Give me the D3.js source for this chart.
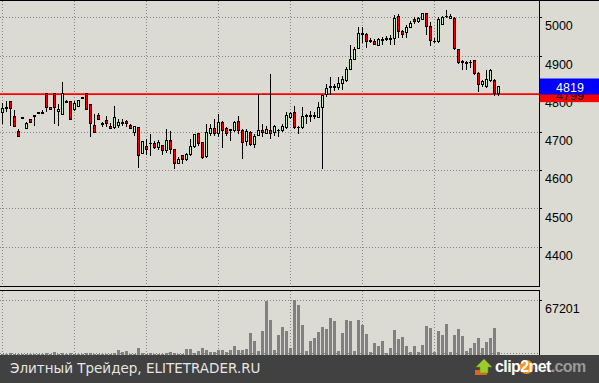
<!DOCTYPE html>
<html>
<head>
<meta charset="utf-8">
<script src="https://cdn.jsdelivr.net/npm/d3@7"></script>
<style>
  body { margin: 0; background: #dcdbd3; }
  svg { display: block; }
</style>
</head>
<body>
<svg id="chart" width="599" height="383"></svg>
<script>
// candle data, one entry per bar (oldest first)
const open = [4751,4763,4780,4740,4701,4737,4710,4732,4742,4750,
  4749,4800,4763,4800,4754,4745,4780,4779,4758,4767,
  4790,4800,4772,4718,4743,4721,4731,4714,4712,4717,
  4724,4727,4717,4699,4711,4644,4661,4669,4670,4659,
  4664,4651,4677,4655,4617,4639,4629,4642,4661,4695,
  4673,4635,4696,4708,4696,4725,4708,4706,4705,4727,
  4705,4675,4699,4668,4692,4703,4697,4705,4699,4705,
  4703,4712,4738,4752,4712,4712,4740,4741,4741,4738,
  4763,4798,4818,4816,4816,4828,4835,4863,4889,4918,
  4958,4956,4940,4938,4927,4943,4944,4942,4945,5003,
  4964,4959,4974,4993,4988,4995,5009,4977,4938,4936,
  4982,5001,4997,4997,4916,4884,4881,4883,4886,4853,
  4825,4819,4835,4835,4800];
const high = [4775,4782,4781,4758,4708,4737,4725,4733,4743,4750,
  4758,4800,4764,4800,4773,4832,4783,4779,4780,4783,
  4792,4803,4772,4747,4750,4725,4743,4723,4769,4734,
  4734,4731,4721,4717,4711,4677,4682,4696,4677,4679,
  4664,4708,4702,4655,4635,4640,4646,4682,4695,4695,
  4673,4721,4721,4734,4747,4730,4714,4708,4730,4743,
  4708,4708,4703,4696,4800,4721,4717,4851,4718,4708,
  4721,4752,4752,4769,4717,4765,4747,4756,4752,4778,
  4797,4826,4844,4826,4844,4846,4870,4927,4923,4974,
  4974,4959,4945,4942,4947,4949,4951,4955,5006,5009,
  4968,4980,4991,5000,5002,5011,5012,4988,4945,5000,
  5003,5019,5009,5002,4918,4889,4886,4889,4889,4857,
  4835,4861,4866,4839,4819];
const low = [4722,4752,4717,4714,4686,4737,4708,4724,4717,4750,
  4748,4752,4758,4721,4716,4745,4777,4732,4756,4766,
  4786,4759,4688,4699,4733,4714,4712,4708,4708,4710,
  4717,4714,4708,4690,4607,4642,4640,4638,4655,4653,
  4640,4646,4642,4603,4616,4616,4624,4638,4659,4664,
  4629,4632,4690,4690,4686,4658,4690,4677,4699,4696,
  4629,4664,4664,4658,4690,4686,4695,4682,4690,4686,
  4699,4708,4734,4708,4695,4708,4721,4725,4734,4737,
  4603,4791,4796,4807,4809,4809,4831,4861,4888,4916,
  4933,4921,4932,4927,4925,4927,4938,4927,4927,4945,
  4945,4945,4972,4982,4986,4993,4953,4924,4932,4933,
  4980,4997,4995,4914,4879,4863,4861,4868,4848,4804,
  4817,4816,4831,4793,4793];
const close = [4762,4761,4761,4715,4687,4737,4721,4725,4740,4750,
  4751,4765,4760,4765,4760,4800,4778,4732,4775,4782,
  4788,4759,4723,4699,4733,4719,4722,4708,4737,4725,
  4721,4723,4710,4714,4639,4674,4655,4671,4659,4673,
  4651,4679,4655,4617,4629,4629,4642,4661,4693,4670,
  4633,4700,4710,4695,4725,4703,4695,4706,4725,4703,
  4673,4701,4668,4688,4703,4700,4706,4695,4714,4705,
  4714,4743,4749,4712,4712,4740,4743,4743,4743,4763,
  4796,4813,4816,4818,4828,4838,4863,4889,4916,4958,
  4954,4938,4936,4929,4942,4940,4942,4944,4997,4962,
  4955,4974,4984,4990,4997,5009,4977,4940,4936,4995,
  5000,5003,5003,4918,4883,4881,4879,4881,4853,4825,
  4831,4837,4861,4800,4819];
const volume = [1200,1000,1300,1100,900,600,1000,800,900,500,
  800,1400,900,3300,1200,1500,800,1300,1000,900,
  700,1400,1500,1200,1000,900,1100,800,1500,5400,
  3300,4100,1000,1200,8300,1500,1200,1300,1000,1100,
  1200,1500,2500,1800,1100,1200,6600,6600,1500,4100,
  8300,5400,3300,3300,5400,5400,3300,5400,10300,5400,
  5400,6600,26100,16500,4100,29000,66300,42700,5400,24000,
  34000,29000,8300,67201,61300,36400,4100,16500,19900,27400,
  34000,31500,44800,41400,4100,26100,42700,41400,4100,42700,
  36400,24900,3300,13700,10800,16500,1600,7500,30200,19000,
  22000,10800,3300,10800,3300,11600,35700,32300,3300,29000,
  24000,37300,3300,24000,31500,23300,4100,8300,13700,19900,
  7500,14900,20800,33200,3300];

const priceTicks = [4400, 4500, 4600, 4700, 4800, 4900, 5000];
const volumeTicks = [67201];
const gridBars = [0, 18, 36, 54, 72, 90, 108];   // bars where vertical grid lines sit
const lastPrice = 4819;
const levelPrice = 4799;
const footerText = "Элитный Трейдер, ELITETRADER.RU";

const W = 599, H = 383;
const bg = "#dcdbd3";
const bull = "#c2eec2";
const bear = "#ee0000";
const plotRight = 539;

const svg = d3.select("#chart");
svg.append("rect").attr("width", W).attr("height", H).attr("fill", bg);

const x = d3.scaleLinear().domain([0, open.length - 1]).range([2, 498]);
const y = d3.scaleLinear().domain([4400, 5000]).range([246.7, 17.3]);
const yv = d3.scaleLinear().domain([0, 67201]).range([354.5, 300]);

const px = i => Math.round(x(i)) + 0.5;

// grid
const grid = svg.append("g")
  .attr("stroke", "#858585")
  .attr("stroke-dasharray", "1,2")
  .attr("shape-rendering", "crispEdges");

grid.selectAll("line.vp").data(gridBars).join("line")
  .attr("class", "vp")
  .attr("x1", px).attr("x2", px)
  .attr("y1", 1).attr("y2", 286);
grid.selectAll("line.vv").data(gridBars).join("line")
  .attr("class", "vv")
  .attr("x1", px).attr("x2", px)
  .attr("y1", 291).attr("y2", 355);
grid.selectAll("line.hp").data(priceTicks).join("line")
  .attr("class", "hp")
  .attr("x1", 0).attr("x2", plotRight)
  .attr("y1", d => Math.round(y(d)) + 0.5)
  .attr("y2", d => Math.round(y(d)) + 0.5);
grid.selectAll("line.hv").data(volumeTicks.concat([0])).join("line")
  .attr("class", "hv")
  .attr("x1", 0).attr("x2", plotRight)
  .attr("y1", d => d === 0 ? 353.5 : Math.round(yv(d)) + 0.5)
  .attr("y2", d => d === 0 ? 353.5 : Math.round(yv(d)) + 0.5);

// level line
svg.append("line")
  .attr("x1", 0).attr("x2", plotRight)
  .attr("y1", y(levelPrice)).attr("y2", y(levelPrice))
  .attr("stroke", "#ff0000")
  .attr("stroke-width", 1.6);

// candles
const candles = d3.range(open.length).map(i => ({
  i: i, o: open[i], h: high[i], l: low[i], c: close[i], v: volume[i]
}));

const cg = svg.append("g").attr("shape-rendering", "crispEdges");
cg.selectAll("line").data(candles).join("line")
  .attr("x1", d => px(d.i)).attr("x2", d => px(d.i))
  .attr("y1", d => y(d.h)).attr("y2", d => y(d.l))
  .attr("stroke", "#000");
cg.selectAll("rect").data(candles).join("rect")
  .attr("x", d => Math.round(x(d.i)) - 0.5)
  .attr("y", d => y(Math.max(d.o, d.c)))
  .attr("width", 2)
  .attr("height", d => Math.max(0.5, Math.abs(y(d.o) - y(d.c))))
  .attr("fill", d => d.c > d.o ? bull : (d.c < d.o ? bear : "#000"))
  .attr("stroke", "#000");

// volume bars
svg.append("g").attr("shape-rendering", "crispEdges")
  .selectAll("rect").data(candles).join("rect")
  .attr("x", d => Math.round(x(d.i)) - 1)
  .attr("width", 3)
  .attr("y", d => yv(d.v))
  .attr("height", d => yv(0) - yv(d.v))
  .attr("fill", "#808080");

// panel borders
const frame = svg.append("g").attr("stroke", "#000").attr("shape-rendering", "crispEdges");
frame.append("line").attr("x1", 0).attr("x2", W).attr("y1", 0.5).attr("y2", 0.5);
frame.append("line").attr("x1", 0).attr("x2", plotRight + 1).attr("y1", 286.5).attr("y2", 286.5);
frame.append("line").attr("x1", 0).attr("x2", plotRight + 1).attr("y1", 290.5).attr("y2", 290.5);
frame.append("line").attr("x1", plotRight + 0.5).attr("x2", plotRight + 0.5).attr("y1", 0).attr("y2", 287);
frame.append("line").attr("x1", plotRight + 0.5).attr("x2", plotRight + 0.5).attr("y1", 290).attr("y2", 356);

// right axes
function styleAxis(g) {
  g.select(".domain").remove();
  g.selectAll(".tick line").attr("stroke", "#000").attr("shape-rendering", "crispEdges");
  g.selectAll(".tick text")
    .attr("dy", 0).attr("y", 12.7)
    .attr("fill", "#000")
    .style("font-family", "'Liberation Sans', Arial, sans-serif")
    .style("font-size", "12.5px");
}

svg.append("g")
  .attr("transform", `translate(${plotRight},0)`)
  .call(d3.axisRight(y).tickValues(priceTicks).tickSize(3).tickPadding(3).tickFormat(d3.format("d")))
  .call(styleAxis);

svg.append("g")
  .attr("transform", `translate(${plotRight},0)`)
  .call(d3.axisRight(yv).tickValues(volumeTicks).tickSize(3).tickPadding(3).tickFormat(d3.format("d")))
  .call(styleAxis);

// price labels on the axis
const lbl = svg.append("g")
  .style("font-family", "'Liberation Sans', Arial, sans-serif")
  .style("font-size", "12.5px")
  .attr("text-anchor", "middle");

lbl.append("rect")
  .attr("x", plotRight + 1).attr("y", y(levelPrice) - 8)
  .attr("width", W - plotRight - 1).attr("height", 16)
  .attr("fill", "#ff0000");
lbl.append("text")
  .attr("x", 570).attr("y", y(levelPrice) + 5.5)
  .attr("fill", "#000")
  .text(levelPrice);

lbl.append("rect")
  .attr("x", plotRight + 1).attr("y", y(lastPrice) - 8)
  .attr("width", W - plotRight - 1).attr("height", 16)
  .attr("fill", "#0000ff");
lbl.append("text")
  .attr("x", 570).attr("y", y(lastPrice) + 5.5)
  .attr("fill", "#fff")
  .text(lastPrice);

// footer
svg.append("rect").attr("x", 0).attr("y", 355).attr("width", W).attr("height", H - 355).attr("fill", "#414141");
svg.append("text")
  .attr("x", 10).attr("y", 373)
  .attr("fill", "#e6e6e6")
  .style("font-family", "'DejaVu Sans', Verdana, sans-serif")
  .style("font-size", "13.5px")
  .text(footerText);

// clip2net logo
const logo = svg.append("g");
logo.append("rect").attr("x", 475).attr("y", 370).attr("width", 12).attr("height", 5).attr("fill", "#e8601c");
logo.append("polygon")
  .attr("points", "484,359 492,367 488,367 488,373 480,373 480,367 476,367")
  .attr("fill", "#9ccc2c").attr("stroke", "#6a9a1a").attr("stroke-width", 0.6);
logo.append("circle").attr("cx", 526.5).attr("cy", 367).attr("r", 7).attr("fill", "#f5901e");
const lt = logo.append("text")
  .attr("x", 495).attr("y", 372)
  .style("font-family", "'Liberation Sans', Arial, sans-serif")
  .style("font-size", "16px")
  .style("font-weight", "bold")
  .style("letter-spacing", "-0.6px");
lt.append("tspan").attr("fill", "#fff").text("clip");
lt.append("tspan").attr("fill", "#fff").text("2");
lt.append("tspan").attr("fill", "#fff").text("net");
lt.append("tspan").attr("fill", "#9a9a9a").text(".com");
</script>
</body>
</html>
